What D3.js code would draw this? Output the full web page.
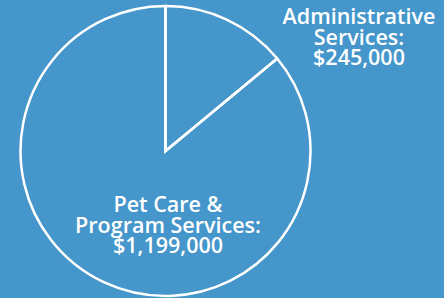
<!DOCTYPE html>
<html>
<head>
    <meta charset="UTF-8">
    <title>pie</title>
    <script src="https://d3js.org/d3.v7.min.js"></script>
    <style>
        body { margin: 0; background: #4596cb; }
        svg { display: block; }
    </style>
</head>
<body>
    <svg id="chart"></svg>
    <script>
        // data
        var categories = ["Administrative Services", "Pet Care & Program Services"];
        var amounts = [245000, 1199000];
        // slice shares as drawn in the picture (percent)
        var shares = [14, 86];
        var labelLines = [
            ["Administrative", "Services:"],
            ["Pet Care &", "Program Services:"]
        ];

        var width = 444, height = 298;
        var cx = 165.5, cy = 151, r = 145;

        var svg = d3.select("#chart")
            .attr("width", width)
            .attr("height", height);

        svg.append("rect")
            .attr("width", width)
            .attr("height", height)
            .attr("fill", "#4596cb");

        var pie = d3.pie().sort(null).value(function(d) { return d; });
        var arc = d3.arc().innerRadius(0).outerRadius(r);

        var g = svg.append("g").attr("transform", "translate(" + cx + "," + cy + ")");

        g.selectAll("path")
            .data(pie(shares))
            .enter()
            .append("path")
            .attr("d", arc)
            .attr("fill", "none")
            .attr("stroke", "white")
            .attr("stroke-width", 2.5)
            .attr("stroke-linejoin", "miter");

        var fmt = d3.format("$,");
        // label positions
        var labelPos = [
            { x: 359, y: 24 },
            { x: 168, y: 212 }
        ];

        categories.forEach(function(c, i) {
            var lines = labelLines[i].concat([fmt(amounts[i])]);
            lines.forEach(function(l, j) {
                svg.append("text")
                    .attr("x", labelPos[i].x)
                    .attr("y", labelPos[i].y + j * 20.5)
                    .attr("text-anchor", "middle")
                    .attr("fill", "white")
                    .attr("font-family", "'Open Sans', sans-serif")
                    .attr("font-weight", 600)
                    .attr("font-size", 21.5)
                    .text(l);
            });
        });
    </script>
</body>
</html>
